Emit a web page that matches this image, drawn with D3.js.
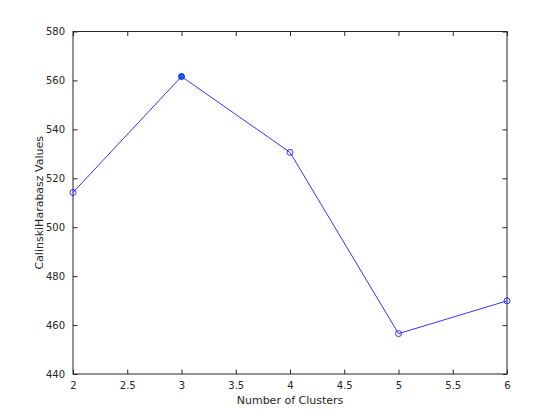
<!DOCTYPE html>
<html><head><meta charset="utf-8">
<script src="https://cdn.jsdelivr.net/npm/d3@7"></script>
<style>body{margin:0;background:#fff;} svg{display:block;}</style>
</head><body>
<script>
const clusters = [2, 3, 4, 5, 6];
const chValues = [514.2, 561.6, 530.6, 456.5, 469.9];
const xTicks = [2, 2.5, 3, 3.5, 4, 4.5, 5, 5.5, 6];
const yTicks = [440, 460, 480, 500, 520, 540, 560, 580];
const xLabel = "Number of Clusters";
const yLabel = "CalinskiHarabasz Values";

const W = 560, H = 420;
const L = 73, R = 507, T = 31.5, B = 374;
const svg = d3.select("body").append("svg").attr("width", W).attr("height", H);
const x = d3.scaleLinear().domain([2, 6]).range([L, R]);
const y = d3.scaleLinear().domain([440, 580]).range([B, T]);
const col = "#262626";
const font = "DejaVu Sans, sans-serif";

svg.append("rect").attr("width", W).attr("height", H).attr("fill", "#fff");

function styleAxis(g) {
  g.select(".domain").remove();
  g.selectAll(".tick line").attr("stroke", col).attr("stroke-width", 1);
  g.selectAll(".tick text").attr("fill", col).style("font-family", font).style("font-size", "10px");
}
// bottom
svg.append("g").attr("transform", `translate(0,${B})`)
  .call(d3.axisBottom(x).tickValues(xTicks).tickFormat(d3.format("")).tickSizeInner(-4.5).tickSizeOuter(0).tickPadding(8))
  .call(styleAxis);
// top
svg.append("g").attr("transform", `translate(0,${T})`)
  .call(d3.axisTop(x).tickValues(xTicks).tickFormat("").tickSizeInner(-4.5).tickSizeOuter(0))
  .call(styleAxis);
// left
svg.append("g").attr("transform", `translate(${L},0)`)
  .call(d3.axisLeft(y).tickValues(yTicks).tickFormat(d3.format("")).tickSizeInner(-4.5).tickSizeOuter(0).tickPadding(8))
  .call(styleAxis);
// right
svg.append("g").attr("transform", `translate(${R},0)`)
  .call(d3.axisRight(y).tickValues(yTicks).tickFormat("").tickSizeInner(-4.5).tickSizeOuter(0))
  .call(styleAxis);

// box
svg.append("rect").attr("x", L).attr("y", T).attr("width", R - L).attr("height", B - T)
  .attr("fill", "none").attr("stroke", col).attr("stroke-width", 1);

// line
const line = d3.line().x((d, i) => x(clusters[i])).y(d => y(d));
svg.append("path").datum(chValues).attr("d", line)
  .attr("fill", "none").attr("stroke", "#0000ff").attr("stroke-width", 0.8);

svg.selectAll("circle.m").data(chValues).enter().append("circle")
  .attr("class", "m")
  .attr("cx", (d, i) => x(clusters[i])).attr("cy", d => y(d)).attr("r", 3)
  .attr("fill", (d, i) => i === 1 ? "#1a5fd6" : "none")
  .attr("stroke", "#0000ff").attr("stroke-width", 0.8);

// labels
svg.append("text").attr("x", (L + R) / 2).attr("y", 404).attr("text-anchor", "middle")
  .attr("fill", col).style("font-family", font).style("font-size", "11px").text(xLabel);
svg.append("text").attr("transform", `translate(43,${(T + B) / 2}) rotate(-90)`).attr("text-anchor", "middle")
  .attr("fill", col).style("font-family", font).style("font-size", "11px").text(yLabel);
</script>
</body></html>
